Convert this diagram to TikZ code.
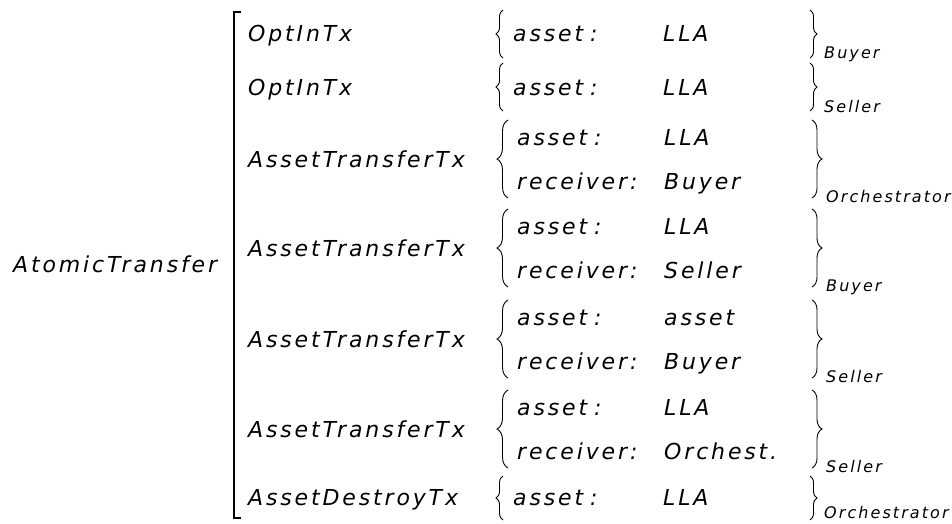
\documentclass[tikz,border=0pt]{standalone}
\usepackage{fontspec}
\usetikzlibrary{decorations.pathreplacing}
\newfontfamily\mfont[LetterSpace=13]{DejaVu Sans}
\newcommand\akey{asset\kern7pt:}
\newcommand\rkey{receiver\kern3pt:}
\tikzset{
  txt/.style={anchor=base west, inner sep=0pt, font=\mfont\itshape\fontsize{22}{26}\selectfont},
  subtxt/.style={anchor=base west, inner sep=0pt, font=\mfont\itshape\fontsize{16}{19}\selectfont},
  lbr/.style={decorate, decoration={brace, amplitude=#1}, line width=0.9pt},
  rbr/.style={decorate, decoration={brace, amplitude=#1}, line width=0.9pt},
  bracket/.style={line width=1.3pt}
}
\begin{document}
\begin{tikzpicture}[x=1pt,y=-1pt]
\useasboundingbox (0,0) rectangle (952,523);

% left-hand name
\node[txt] (atomic) at (13,272) {AtomicTransfer};

% big bracket around the list of transactions
\draw[bracket] (241,12) -- (234,12) -- (234,518) -- (241,518);

% ---- row 1 (single field)
\node[txt] (t1) at (248,41) {OptInTx};
\draw[lbr=7pt] (503,58) -- (503,10);
\node[txt] (k1) at (513,41) {\akey};
\node[txt] (v1) at (663,41) {LLA};
\draw[rbr=7pt] (810,10) -- (810,58);
\node[subtxt] (s1) at (824,58) {Buyer};

% ---- row 2 (single field)
\node[txt] (t2) at (248,95) {OptInTx};
\draw[lbr=7pt] (503,111) -- (503,63);
\node[txt] (k2) at (513,95) {\akey};
\node[txt] (v2) at (663,95) {LLA};
\draw[rbr=7pt] (810,63) -- (810,111);
\node[subtxt] (s2) at (824,112) {Seller};

% ---- row 3 (two fields)
\node[txt] (t3) at (248,167) {AssetTransferTx};
\draw[lbr=11pt] (508,198) -- (508,120);
\node[txt] (k3a) at (517,145) {\akey};
\node[txt] (v3a) at (664,145) {LLA};
\node[txt] (k3b) at (517,189) {\rkey};
\node[txt] (v3b) at (664,189) {Buyer};
\draw[rbr=10pt] (812,120) -- (812,198);
\node[subtxt] (s3) at (826,202) {Orchestrator};

% ---- row 4 (two fields)
\node[txt] (t4) at (248,256) {AssetTransferTx};
\draw[lbr=11pt] (508,287) -- (508,209);
\node[txt] (k4a) at (517,234) {\akey};
\node[txt] (v4a) at (664,234) {LLA};
\node[txt] (k4b) at (517,278) {\rkey};
\node[txt] (v4b) at (664,278) {Seller};
\draw[rbr=10pt] (812,209) -- (812,287);
\node[subtxt] (s4) at (826,291) {Buyer};

% ---- row 5 (two fields)
\node[txt] (t5) at (248,347) {AssetTransferTx};
\draw[lbr=11pt] (508,378) -- (508,300);
\node[txt] (k5a) at (517,325) {\akey};
\node[txt] (v5a) at (664,325) {asset};
\node[txt] (k5b) at (517,369) {\rkey};
\node[txt] (v5b) at (664,369) {Buyer};
\draw[rbr=10pt] (812,300) -- (812,378);
\node[subtxt] (s5) at (826,382) {Seller};

% ---- row 6 (two fields)
\node[txt] (t6) at (248,437) {AssetTransferTx};
\draw[lbr=11pt] (508,468) -- (508,390);
\node[txt] (k6a) at (517,415) {\akey};
\node[txt] (v6a) at (664,415) {LLA};
\node[txt] (k6b) at (517,459) {\rkey};
\node[txt] (v6b) at (664,459) {Orchest.};
\draw[rbr=10pt] (812,390) -- (812,468);
\node[subtxt] (s6) at (826,472) {Seller};

% ---- row 7 (single field)
\node[txt] (t7) at (248,505) {AssetDestroyTx};
\draw[lbr=7pt] (503,520) -- (503,476);
\node[txt] (k7) at (513,505) {\akey};
\node[txt] (v7) at (663,505) {LLA};
\draw[rbr=7pt] (810,476) -- (810,520);
\node[subtxt] (s7) at (824,518) {Orchestrator};
\end{tikzpicture}
\end{document}
